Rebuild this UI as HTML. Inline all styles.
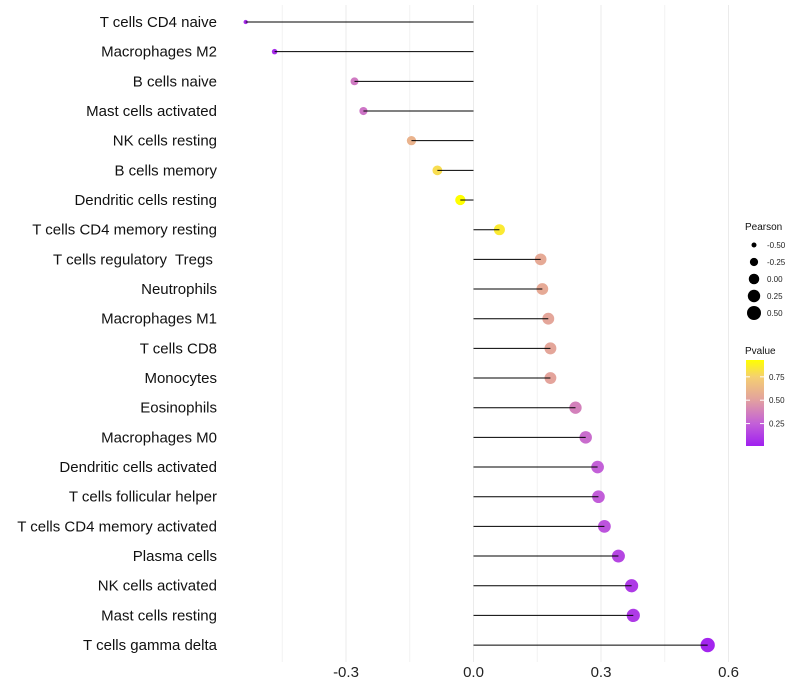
<!DOCTYPE html>
<html><head><meta charset="utf-8"><style>
body{margin:0;background:#fff;}
svg{display:block;font-family:"Liberation Sans",sans-serif;}
text{white-space:pre;}
</style></head><body>
<svg id="chart" width="800" height="700"></svg>
<script>
const categories=["T cells CD4 naive","Macrophages M2","B cells naive","Mast cells activated","NK cells resting","B cells memory","Dendritic cells resting","T cells CD4 memory resting","T cells regulatory  Tregs ","Neutrophils","Macrophages M1","T cells CD8","Monocytes","Eosinophils","Macrophages M0","Dendritic cells activated","T cells follicular helper","T cells CD4 memory activated","Plasma cells","NK cells activated","Mast cells resting","T cells gamma delta"];
const pearson=[-0.536,-0.468,-0.28,-0.259,-0.146,-0.085,-0.031,0.061,0.158,0.162,0.176,0.181,0.181,0.24,0.264,0.292,0.294,0.308,0.341,0.372,0.376,0.551];
const pvalues=[0.05,0.05,0.35,0.33,0.6,0.8,0.93,0.85,0.55,0.55,0.53,0.53,0.52,0.38,0.3,0.25,0.24,0.2,0.15,0.1,0.1,0.02];
const xTicks=[-0.3,0,0.3,0.6];
const xTickLabels=["-0.3","0.0","0.3","0.6"];
const minorTicks=[-0.45,-0.15,0.15,0.45];
const sizeLegend=[-0.5,-0.25,0,0.25,0.5];
const sizeLegendLabels=["-0.50","-0.25","0.00","0.25","0.50"];
const pLegend=[0.75,0.5,0.25];

const NS="http://www.w3.org/2000/svg";
const svg=document.getElementById('chart');
const xS=v=>473.5+v*425;
const yS=i=>22+i*29.67;
const rS=v=>Math.sqrt(Math.max(1,27.6+42.75*v));
const stops=[[0,[160,32,240]],[0.25,[195,96,216]],[0.5,[226,160,160]],[0.75,[245,208,112]],[0.93,[255,255,0]]];
function col(p){
  if(p<=stops[0][0])return rgb(stops[0][1]);
  for(let i=1;i<stops.length;i++){if(p<=stops[i][0]){const a=stops[i-1],b=stops[i];const t=(p-a[0])/(b[0]-a[0]);return rgb(a[1].map((c,k)=>c+(b[1][k]-c)*t));}}
  return rgb(stops[stops.length-1][1]);
}
function rgb(a){return `rgb(${a.map(Math.round).join(',')})`;}
function el(tag,attrs,parent){const e=document.createElementNS(NS,tag);for(const k in attrs)e.setAttribute(k,attrs[k]);(parent||svg).appendChild(e);return e;}

minorTicks.forEach(v=>{const l=el('line',{x1:xS(v),x2:xS(v),y1:5,y2:662,stroke:'#f2f2f2','stroke-width':1});

});
xTicks.forEach((v,i)=>{const l=el('line',{x1:xS(v),x2:xS(v),y1:5,y2:662,stroke:'#ebebeb','stroke-width':1});


const t=el('text',{x:xS(v),y:677,'text-anchor':'middle','font-size':15,fill:'#222'});t.textContent=xTickLabels[i];

});

categories.forEach((c,i)=>{
  const y=yS(i);
  const t=el('text',{x:217,y:y+5,'text-anchor':'end','font-size':15,fill:'#111'});t.textContent=c;
  
  
  const d=el('circle',{cx:xS(pearson[i]),cy:y,r:rS(pearson[i]),fill:col(pvalues[i])});
  
  
  const l=el('line',{x1:xS(pearson[i]),x2:xS(0),y1:y,y2:y,stroke:'#000','stroke-width':1});
  
  
});

const lt=el('text',{x:745,y:230,'font-size':10,fill:'#111'});lt.textContent='Pearson';


sizeLegend.forEach((v,i)=>{const y=245+i*17;
  const c=el('circle',{cx:754,cy:y,r:rS(v),fill:'#000'});
  
  
  const t=el('text',{x:767,y:y+3,'font-size':8,fill:'#222'});t.textContent=sizeLegendLabels[i];
  
  });

const pt=el('text',{x:745,y:354,'font-size':10,fill:'#111'});pt.textContent='Pvalue';


const defs=el('defs',{});const g=el('linearGradient',{id:'pg',x1:0,y1:1,x2:0,y2:0},defs);
const pmin=0.01,pmax=0.93;
stops.forEach(s=>el('stop',{offset:((Math.max(s[0],pmin)-pmin)/(pmax-pmin)),'stop-color':rgb(s[1])},g));
const bar=el('rect',{x:746,y:360,width:18,height:86,fill:'url(#pg)'});


const pY=p=>446-(p-pmin)/(pmax-pmin)*86;
pLegend.forEach(p=>{const y=pY(p);
  el('line',{x1:746,x2:750,y1:y,y2:y,stroke:'#fff','stroke-width':1});
  el('line',{x1:760,x2:764,y1:y,y2:y,stroke:'#fff','stroke-width':1});
  const t=el('text',{x:769,y:y+3,'font-size':8,fill:'#222'});t.textContent=p.toFixed(2);
  
  });
</script>
</body></html>
